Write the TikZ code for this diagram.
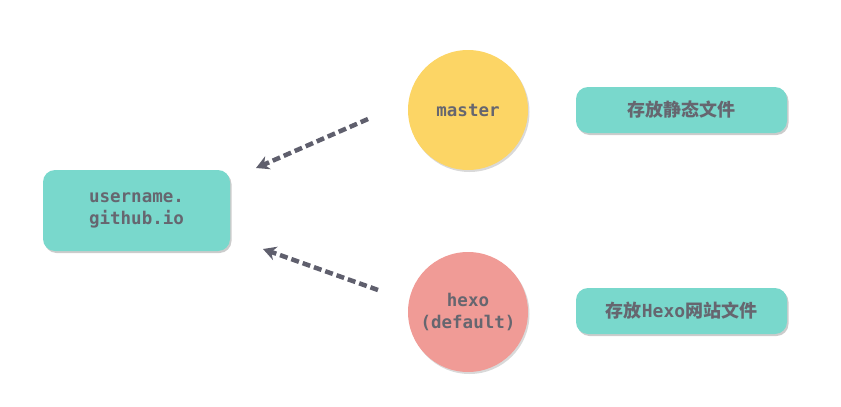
\documentclass[tikz,border=0pt]{standalone}
\usepackage{fontspec}
\setmonofont{DejaVu Sans Mono}
\newfontfamily\cjk{Noto Sans CJK SC}
\usepackage{tikz}
\usetikzlibrary{arrows.meta}
\usetikzlibrary{shadows}
\definecolor{boxteal}{HTML}{79D8CC}
\definecolor{masteryellow}{HTML}{FCD565}
\definecolor{hexopink}{HTML}{F09B96}
\definecolor{labelgray}{HTML}{66666F}
\definecolor{arrowgray}{HTML}{5F5F6D}

\begin{document}
\begin{tikzpicture}[x=1pt, y=-1pt,
	pill/.style={fill=boxteal, rounded corners=12pt, minimum width=211pt, minimum height=46pt,
		drop shadow={shadow xshift=1.5pt, shadow yshift=-2pt, fill=black, opacity=0.2},
		text=labelgray, font=\cjk\bfseries\fontsize{18}{20}\selectfont},
	branch/.style={circle, minimum size=120pt, inner sep=0pt,
		drop shadow={shadow xshift=1.5pt, shadow yshift=-2pt, fill=black, opacity=0.15},
		text=labelgray, align=center, font=\ttfamily\bfseries\fontsize{17.5}{22}\selectfont},
	pushes/.style={arrowgray, line width=4.5pt, dash pattern=on 8pt off 4pt, -{Stealth[length=13pt, width=14pt]}}
]
\useasboundingbox (0,0) rectangle (841,407);

\node[fill=boxteal, rounded corners=12pt, minimum width=187pt, minimum height=81pt,
	drop shadow={shadow xshift=1.5pt, shadow yshift=-2pt, fill=black, opacity=0.2},
	text=labelgray, align=center, font=\ttfamily\bfseries\fontsize{17.5}{22}\selectfont]
	(site) at (136.5, 210.5) {username.\\github.io};

\node[branch, fill=masteryellow] (master) at (468, 110) {master};
\node[branch, fill=hexopink] (hexo) at (468, 312) {hexo\\(default)};

\node[pill] (static) at (681.5, 110) {存放静态文件};
\node[pill] (source) at (681.5, 311) {存放{\ttfamily\bfseries Hexo}网站文件};

\coordinate (m1) at (368, 119);
\coordinate (m2) at (256, 168);
\coordinate (h1) at (378, 290);
\coordinate (h2) at (263, 249);
\draw[pushes] (m1) -- (m2);
\draw[pushes] (h1) -- (h2);

\end{tikzpicture}
\end{document}
